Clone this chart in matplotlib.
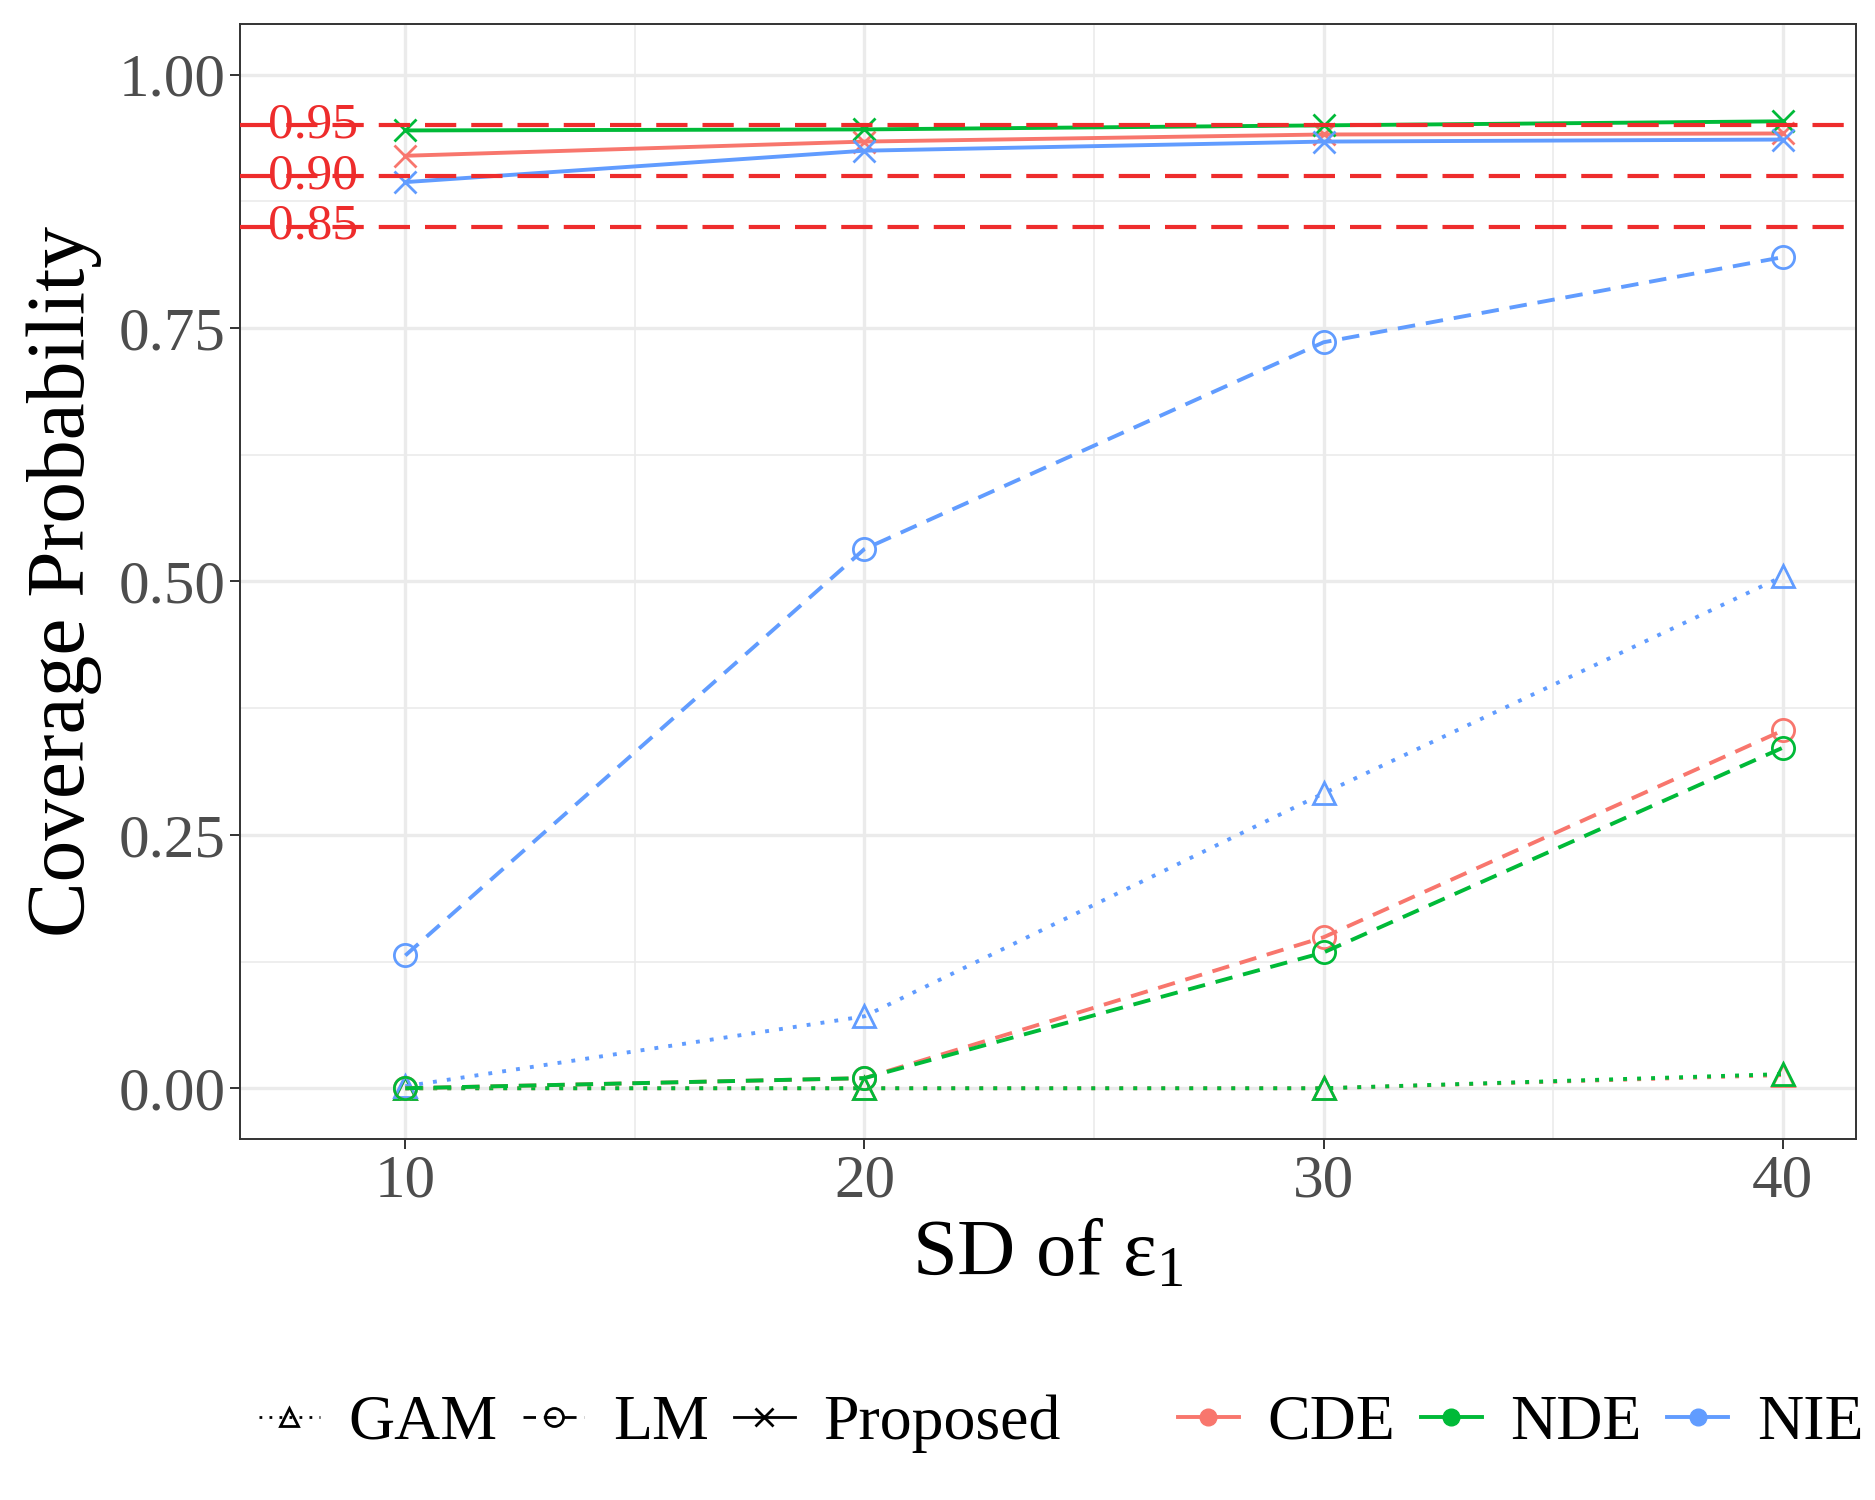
import numpy as np
import matplotlib
matplotlib.use("Agg")
import matplotlib.pyplot as plt
from matplotlib.lines import Line2D

plt.rcParams['font.family'] = ['Liberation Serif', 'DejaVu Serif']
plt.rcParams['mathtext.fontset'] = 'custom'
plt.rcParams['mathtext.rm'] = 'Liberation Serif'
plt.rcParams['mathtext.it'] = 'Liberation Serif:italic'

# data
sd = [10, 20, 30, 40]
effects = ["CDE", "NDE", "NIE"]
methods = ["GAM", "LM", "Proposed"]

gam_cde = [0.000, 0.000, 0.000, 0.013]
gam_nde = [0.000, 0.000, 0.000, 0.014]
gam_nie = [0.002, 0.071, 0.291, 0.505]

lm_cde = [0.000, 0.010, 0.149, 0.353]
lm_nde = [0.000, 0.010, 0.134, 0.336]
lm_nie = [0.131, 0.532, 0.736, 0.820]

prop_cde = [0.920, 0.934, 0.941, 0.942]
prop_nde = [0.945, 0.946, 0.950, 0.954]
prop_nie = [0.894, 0.925, 0.934, 0.936]

ref_levels = [0.95, 0.90, 0.85]

colors = {"CDE": "#F8766D", "NDE": "#00BA38", "NIE": "#619CFF"}
styles = {"GAM": dict(dashes=(1, 2.6), marker="^"),
          "LM": dict(dashes=(4.5, 2.8), marker="o"),
          "Proposed": dict(linestyle="-", marker="x")}
series = {
    "GAM": [gam_cde, gam_nde, gam_nie],
    "LM": [lm_cde, lm_nde, lm_nie],
    "Proposed": [prop_cde, prop_nde, prop_nie],
}

fig = plt.figure(figsize=(18.75, 15), dpi=100)
ax = fig.add_axes([0.128, 0.2407, 0.862, 0.7433])

lw = 2.8
for m in methods:
    for eff, vals in zip(effects, series[m]):
        st = dict(styles[m])
        mk = st.pop("marker")
        ax.plot(sd, vals, color=colors[eff], lw=lw, marker=mk, markersize=16,
                markerfacecolor="none" if mk != "x" else colors[eff],
                markeredgewidth=2.0, zorder=3, **st)

red = "#EE2C2C"
for lv in ref_levels:
    ax.axhline(lv, color=red, lw=3.0, dashes=(7.5, 3.6), zorder=4)
    ax.text(8, lv, f"{lv:.2f}", color=red, fontsize=37, ha="center", va="center", zorder=5)

ax.set_xlim(6.4, 41.6)
ax.set_ylim(-0.05, 1.05)
ax.set_xticks(sd)
ax.set_yticks([0, 0.25, 0.5, 0.75, 1.0])
ax.set_yticklabels(["0.00", "0.25", "0.50", "0.75", "1.00"])
ax.set_xticks([15, 25, 35], minor=True)
ax.set_yticks([0.125, 0.375, 0.625, 0.875], minor=True)
ax.grid(which="major", color="#EBEBEB", lw=2.4, zorder=0)
ax.grid(which="minor", color="#EBEBEB", lw=1.2, zorder=0)
ax.set_axisbelow(True)
ax.tick_params(which="major", labelsize=44, labelcolor="#4D4D4D", color="#333333",
               length=7, width=1.4)
ax.tick_params(which="minor", length=0)
for s in ax.spines.values():
    s.set_color("#333333")
    s.set_linewidth(1.4)

ax.set_xlabel("SD of ε$_1$", fontsize=58, labelpad=8)
ax.set_ylabel("Coverage Probability", fontsize=60, labelpad=12)

# legends
shape_handles = [
    Line2D([], [], color="black", lw=2, dashes=(1, 2.6), marker="^", markersize=13,
           markerfacecolor="none", markeredgewidth=2),
    Line2D([], [], color="black", lw=2, dashes=(4.5, 2.8), marker="o", markersize=13,
           markerfacecolor="none", markeredgewidth=2),
    Line2D([], [], color="black", lw=2, linestyle="-", marker="x", markersize=13,
           markeredgewidth=2),
]
color_handles = [Line2D([], [], color=colors[e], lw=2.8, marker="o", markersize=12)
                 for e in effects]

leg1 = fig.legend(shape_handles, methods, loc="center", bbox_to_anchor=(0.352, 0.051),
                  ncol=3, frameon=False, fontsize=46, handlelength=0.95,
                  handletextpad=0.45, columnspacing=0.4)
leg2 = fig.legend(color_handles, effects, loc="center", bbox_to_anchor=(0.811, 0.051),
                  ncol=3, frameon=False, fontsize=46, handlelength=0.95,
                  handletextpad=0.45, columnspacing=0.4)

fig.savefig("out.png", dpi=100)
